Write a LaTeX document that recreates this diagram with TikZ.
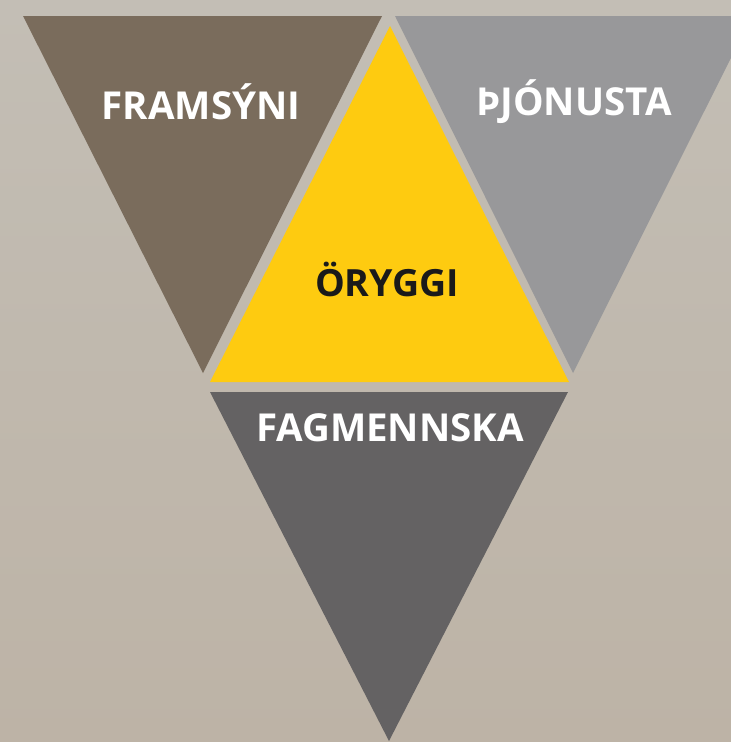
\documentclass[tikz,border=0pt]{standalone}
\usepackage{fontspec}
\setmainfont{Open Sans}
\definecolor{bgtop}{HTML}{C3BEB5}
\definecolor{bgbot}{HTML}{BDB3A6}
\definecolor{brownT}{HTML}{7A6C5C}
\definecolor{yellowT}{HTML}{FECB10}
\definecolor{grayT}{HTML}{98989A}
\definecolor{darkT}{HTML}{646263}
\definecolor{txtdark}{HTML}{1A1A1A}
\begin{document}
\begin{tikzpicture}[x=1pt,y=-1pt,
  lbl/.style={font=\bfseries\fontsize{38.5}{41}\selectfont, text=white, inner sep=0pt},
  dlbl/.style={font=\bfseries\fontsize{37.5}{40}\selectfont, text=txtdark, inner sep=0pt}]
\shade[top color=bgtop, bottom color=bgbot] (0,0) rectangle (731,742);
\useasboundingbox (0,0) rectangle (731,742);
% triangles
\fill[brownT] (23,16) -- (382,16) -- (203,373) -- cycle;
\fill[grayT] (395,16) -- (752,16) -- (573,373) -- cycle;
\fill[yellowT] (390,26) -- (569,382) -- (210,382) -- cycle;
\fill[darkT] (210,392) -- (568,392) -- (389,741) -- cycle;
% labels
\node[lbl] (fr) at (201,102) {FRAMSÝNI};
\node[lbl] (th) at (574,102) {ÞJÓNUSTA};
\node[dlbl] (or) at (387,279) {ÖRYGGI};
\node[lbl] (fa) at (390,428) {FAGMENNSKA};
\end{tikzpicture}
\end{document}
